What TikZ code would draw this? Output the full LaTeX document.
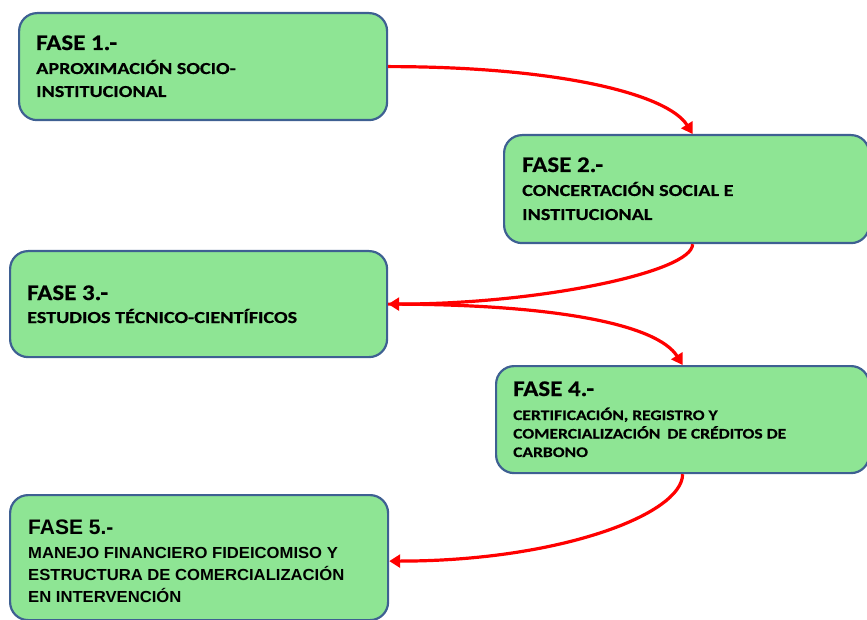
\documentclass[tikz,border=0pt]{standalone}
\usepackage{fontspec}
\newfontfamily\hdfont[FakeStretch=1.12,BoldFeatures={FakeBold=0.4}]{Carlito}
\newfontfamily\sbfont[FakeStretch=1.2,BoldFeatures={FakeBold=0.4}]{Carlito}
\newfontfamily\arhdfont{Liberation Sans}
\newfontfamily\arsbfont[FakeStretch=1.04]{Liberation Sans}
\usetikzlibrary{arrows.meta,calc}
\definecolor{boxfill}{RGB}{142,229,148}
\definecolor{boxline}{RGB}{62,96,146}
\definecolor{arrred}{RGB}{255,0,0}
\begin{document}
\begin{tikzpicture}[x=1pt,y=-1pt,
  box/.style={draw=boxline, fill=boxfill, line width=2.2pt, rounded corners=18pt, anchor=north west, inner sep=0pt},
  hd/.style={anchor=base west, inner sep=0pt, font=\hdfont\bfseries\fontsize{22.3}{26}\selectfont},
  sb/.style={anchor=base west, inner sep=0pt, font=\sbfont\bfseries\fontsize{16.8}{20}\selectfont},
  sbsmall/.style={anchor=base west, inner sep=0pt, font=\sbfont\bfseries\fontsize{14.6}{18}\selectfont},
  arhd/.style={anchor=base west, inner sep=0pt, font=\arhdfont\bfseries\fontsize{21}{24}\selectfont},
  arsb/.style={anchor=base west, inner sep=0pt, font=\arsbfont\bfseries\fontsize{16}{19}\selectfont},
  arr/.style={draw=arrred, line width=3.2pt, -{Triangle[length=11pt,width=13pt]}}]
\useasboundingbox (0,0) rectangle (867,620);
\clip (0,0) rectangle (867,620);
% boxes
\node[box, minimum width=368pt, minimum height=107pt] (b1) at (18,12) {};
\node[box, minimum width=365pt, minimum height=108pt] (b2) at (503,134) {};
\node[box, minimum width=377pt, minimum height=106pt] (b3) at (9,250) {};
\node[box, minimum width=373pt, minimum height=107pt] (b4) at (495,365) {};
\node[box, minimum width=378pt, minimum height=125pt] (b5) at (9,494) {};
% texts
\node[hd] (t1a) at (36,50) {FASE 1.-};
\node[sb] (t1b) at (36,74) {APROXIMACIÓN SOCIO-};
\node[sb] (t1c) at (36,97) {INSTITUCIONAL};
\node[hd] (t2a) at (522,172) {FASE 2.-};
\node[sb] (t2b) at (522,196) {CONCERTACIÓN SOCIAL E};
\node[sb] (t2c) at (522,220) {INSTITUCIONAL};
\node[hd] (t3a) at (27,300) {FASE 3.-};
\node[sb] (t3b) at (27,323) {ESTUDIOS TÉCNICO-CIENTÍFICOS};
\node[hd] (t4a) at (513,396) {FASE 4.-};
\node[sbsmall] (t4b) at (513,420) {CERTIFICACIÓN, REGISTRO Y};
\node[sbsmall] (t4c) at (513,438.5) {COMERCIALIZACIÓN\hspace{3pt} DE CRÉDITOS DE};
\node[sbsmall] (t4d) at (513,457) {CARBONO};
\node[arhd] (t5a) at (28,534) {FASE 5.-};
\node[arsb] (t5b) at (28,558.5) {MANEJO FINANCIERO FIDEICOMISO Y};
\node[arsb] (t5c) at (28,580.5) {ESTRUCTURA DE COMERCIALIZACIÓN};
\node[arsb] (t5d) at (28,602) {EN INTERVENCIÓN};
% connectors
\draw[arr] (b1.east) .. controls +(170,0) and +(-25,-40) .. ($(b2.north)+(6,0)$);
\draw[arr] ($(b2.south)+(6,0)$) .. controls +(0,28) and +(150,0) .. (b3.east);
\draw[arr] (b3.east) .. controls +(170,0) and +(-25,-40) .. (b4.north);
\draw[arr] (b4.south) .. controls +(0,40) and +(170,0) .. ($(b5.east)+(0,3.5)$);
\end{tikzpicture}
\end{document}
